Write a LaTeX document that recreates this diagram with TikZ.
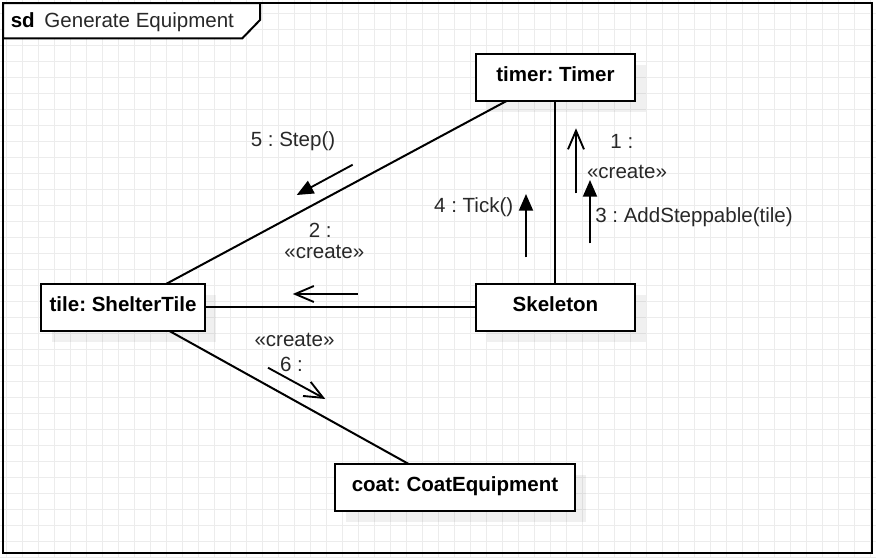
\documentclass[tikz,border=0pt]{standalone}
\usepackage{fontspec}
\setmainfont{Liberation Sans}
\usetikzlibrary{arrows.meta,shadows,calc}
\definecolor{gridc}{RGB}{236,236,236}
\definecolor{txt}{RGB}{40,40,40}
\frenchspacing
\begin{document}
\begin{tikzpicture}[x=0.75pt,y=-0.75pt,
  objbox/.style={draw=black,line width=1.5pt,fill=white,minimum height=35.25pt,
    inner sep=0pt,outer sep=0pt,font=\fontsize{15.4}{18}\selectfont\bfseries,
    text height=12pt,text depth=6pt,
    drop shadow={shadow xshift=8.25pt,shadow yshift=-8.25pt,fill=black,opacity=0.06}},
  link/.style={draw=black,line width=1.5pt},
  msgfill/.style={draw=black,line width=1.4pt,-{Triangle[length=12.5pt,width=10.5pt]}},
  msgopen/.style={draw=black,line width=1.4pt,-{Straight Barb[length=14pt,width=12pt]}},
  lbl/.style={font=\fontsize{15.4}{18}\selectfont,text=txt,inner sep=0pt}]
\useasboundingbox (0,0) rectangle (876,558);
\fill[white] (0,0) rectangle (876,558);
% grid
\foreach \i in {0,...,54} \draw[gridc,line width=0.75pt] ({6.7+16*\i},0) -- ({6.7+16*\i},558);
\foreach \j in {0,...,34} \draw[gridc,line width=0.75pt] (0,{13.3+16*\j}) -- (876,{13.3+16*\j});
% frame
\draw[line width=1.5pt] (3,3) rectangle (872,553);
\draw[line width=1.5pt,fill=white] (3,3) -- (260,3) -- (260,20) -- (242.3,38.3) -- (3,38.3) -- cycle;
\node[lbl,anchor=base west] (sdlabel) at (10.5,27.3) {\textbf{\color{black}sd}\hspace{7.3pt}Generate Equipment};
% objects
\node[objbox,minimum width=119.25pt] (timer) at (555.5,77.5) {timer: Timer};
\node[objbox,minimum width=119.25pt] (skel) at (555.5,307.5) {Skeleton};
\node[objbox,minimum width=123pt] (tile) at (123,307.5) {tile: ShelterTile};
\node[objbox,minimum width=180pt] (coat) at (455,487.5) {coat: CoatEquipment};
% links
\draw[link] ($(timer.south)+(-49,0)$) -- ($(tile.north)+(43,0)$);
\draw[link] ($(timer.south)+(-0.5,0)$) -- ($(skel.north)+(-0.5,0)$);
\draw[link] ($(tile.east)+(0,-0.5)$) -- ($(skel.west)+(0,-0.5)$);
\draw[link] ($(tile.south)+(46.5,0)$) -- ($(coat.north)+(-46.3,0)$);
% message arrows
\coordinate (m1s) at (576,193.3); \coordinate (m1e) at (576,128.3);
\coordinate (m2s) at (357.8,294); \coordinate (m2e) at (292.8,294);
\coordinate (m3s) at (590,243.3);   \coordinate (m3e) at (590,180);
\coordinate (m4s) at (526,257.3);   \coordinate (m4e) at (526,194);
\coordinate (m5s) at (352.7,164.7); \coordinate (m5e) at (296.7,195);
\coordinate (m6s) at (268,367.7);   \coordinate (m6e) at (325.3,399);
\draw[msgopen] (m1s) -- (m1e);
\draw[msgopen] (m2s) -- (m2e);
\draw[msgfill] (m3s) -- (m3e);
\draw[msgfill] (m4s) -- (m4e);
\draw[msgfill] (m5s) -- (m5e);
\draw[msgopen] (m6s) -- (m6e);
% labels
\node[lbl,align=center] (l1) at (627,156.2) {1 :\kern0.5em\\[4.5pt]«create»};
\node[lbl,align=center] (l2) at (324.3,240.9) {2 :\kern0.4em\\[-2.5pt]«create»};
\node[lbl,anchor=base west] (l3) at (595,222.3) {3 : AddSteppable(tile)};
\node[lbl,anchor=base east] (l4) at (513.5,212.3) {4 : Tick()};
\node[lbl,anchor=base west] (l5) at (250.5,146.7) {5 : Step()};
\node[lbl,align=center] (l6) at (294.5,352.5) {«create»\\[0.5pt]6 :\kern0.3em};
\end{tikzpicture}
\end{document}
